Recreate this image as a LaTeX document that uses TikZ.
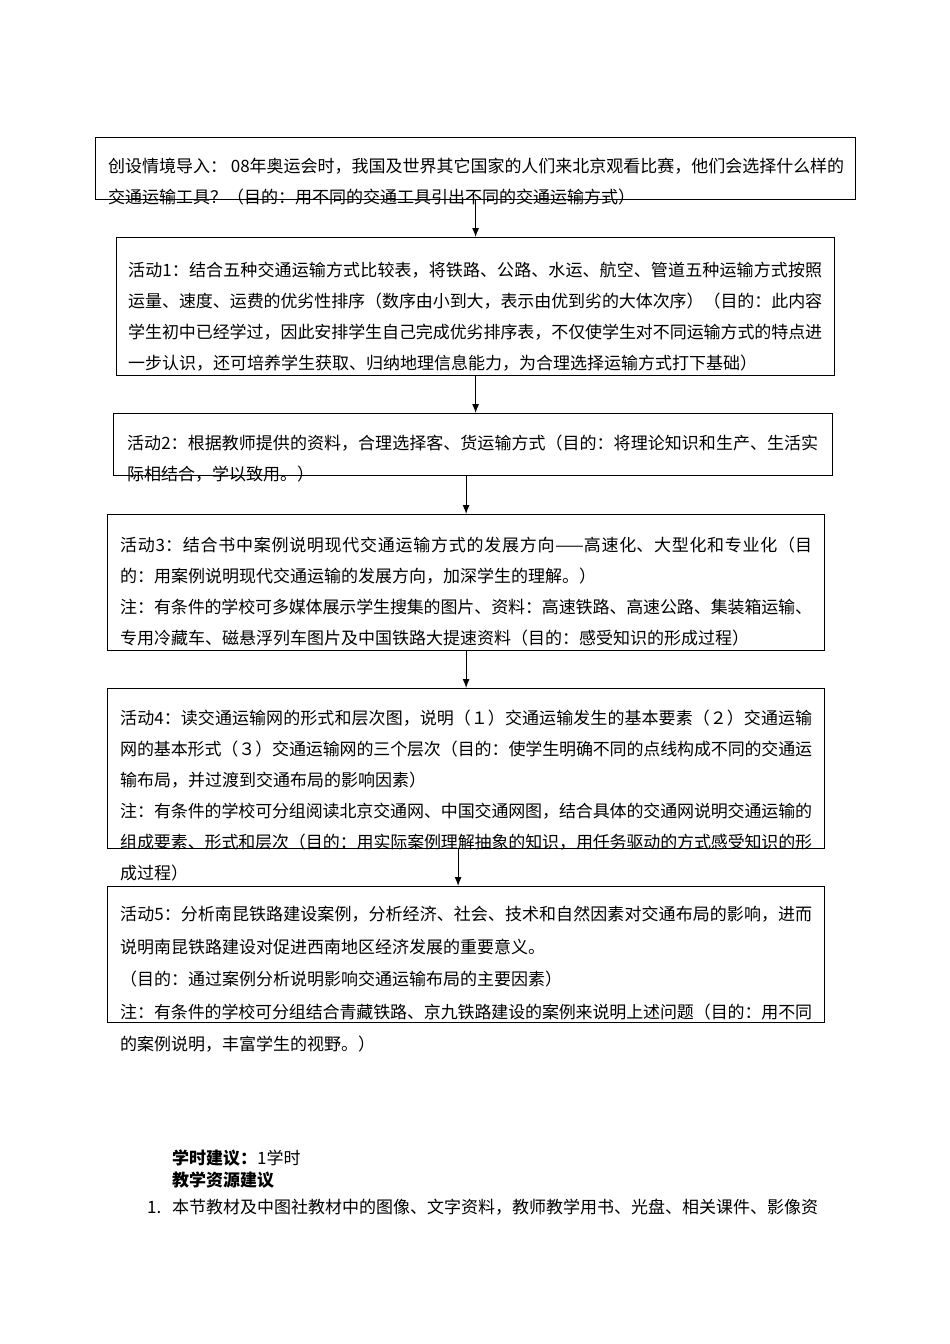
\documentclass[tikz,border=0pt]{standalone}
\usepackage{fontspec}
\setmainfont{Noto Sans CJK SC}
\XeTeXlinebreaklocale "zh"
\XeTeXlinebreakskip=0pt plus 2pt minus 0.5pt
\usetikzlibrary{arrows.meta}

\begin{document}
\begin{tikzpicture}[x=1pt,y=-1pt,
    frame/.style={draw,line width=1.2pt,inner sep=0pt,anchor=north west},
    txt/.style={anchor=north west,inner sep=0pt,align=justify,font=\fontsize{17}{31}\selectfont},
    flow/.style={-{Latex[length=9pt,width=7pt]},line width=1pt}]
    \useasboundingbox (0,0) rectangle (950,1344);
    % boxes
    \node[frame,minimum width=760pt,minimum height=62pt] (b0) at (95,137) {};
    \node[frame,minimum width=718pt,minimum height=138pt] (b1) at (116,237) {};
    \node[frame,minimum width=719pt,minimum height=62pt] (b2) at (113,413) {};
    \node[frame,minimum width=717pt,minimum height=136pt] (b3) at (107,514) {};
    \node[frame,minimum width=717pt,minimum height=160pt] (b4) at (107,688) {};
    \node[frame,minimum width=717pt,minimum height=136pt] (b5) at (107,886) {};
    % texts
    \node[txt,text width=736pt] (t0) at (108,158) {创设情境导入： 08年奥运会时，我国及世界其它国家的人们来北京观看比赛，他们会选择什么样的\linebreak
        交通运输工具？（目的：用不同的交通工具引出不同的交通运输方式）};
    \node[txt,text width=694pt] (t1) at (128,262) {活动1：结合五种交通运输方式比较表，将铁路、公路、水运、航空、管道五种运输方式按照\linebreak
        运量、速度、运费的优劣性排序（数序由小到大，表示由优到劣的大体次序）（目的：此内容\linebreak
        学生初中已经学过，因此安排学生自己完成优劣排序表，不仅使学生对不同运输方式的特点进\linebreak
        一步认识，还可培养学生获取、归纳地理信息能力，为合理选择运输方式打下基础）};
    \node[txt,text width=691pt] (t2) at (127,435) {活动2：根据教师提供的资料，合理选择客、货运输方式（目的：将理论知识和生产、生活实\linebreak
        际相结合，学以致用。）};
    \node[txt,text width=692pt] (t3) at (120,537) {活动3：结合书中案例说明现代交通运输方式的发展方向——高速化、大型化和专业化（目\linebreak
        的：用案例说明现代交通运输的发展方向，加深学生的理解。）\\
        注：有条件的学校可多媒体展示学生搜集的图片、资料：高速铁路、高速公路、集装箱运输、\linebreak
        专用冷藏车、磁悬浮列车图片及中国铁路大提速资料（目的：感受知识的形成过程）};
    \node[txt,text width=692pt] (t4) at (120,710) {活动4：读交通运输网的形式和层次图，说明（１）交通运输发生的基本要素（２）交通运输\linebreak
        网的基本形式（３）交通运输网的三个层次（目的：使学生明确不同的点线构成不同的交通运\linebreak
        输布局，并过渡到交通布局的影响因素）\\
        注：有条件的学校可分组阅读北京交通网、中国交通网图，结合具体的交通网说明交通运输的\linebreak
        组成要素、形式和层次（目的：用实际案例理解抽象的知识，用任务驱动的方式感受知识的形\linebreak
        成过程）};
    \node[txt,text width=692pt,font=\fontsize{17}{32.5}\selectfont] (t5) at (120,906) {活动5：分析南昆铁路建设案例，分析经济、社会、技术和自然因素对交通布局的影响，进而\linebreak
        说明南昆铁路建设对促进西南地区经济发展的重要意义。\\
        （目的：通过案例分析说明影响交通运输布局的主要因素）\\
        注：有条件的学校可分组结合青藏铁路、京九铁路建设的案例来说明上述问题（目的：用不同\linebreak
        的案例说明，丰富学生的视野。）};
    % below the chart
    \node[txt,align=left] (t6) at (172,1150) {\textbf{学时建议：}1学时};
    \node[txt,align=left] (t7) at (172,1172) {\textbf{教学资源建议}};
    \node[txt,align=left] (t8) at (147,1199) {\makebox[25pt][l]{1.}本节教材及中图社教材中的图像、文字资料，教师教学用书、光盘、相关课件、影像资};
    % arrows
    \draw[flow] (b0.south) -- (b1.north);
    \draw[flow] (b1.south) -- (b1.south |- b2.north);
    \draw[flow] (b3.north |- b2.south) -- (b3.north);
    \draw[flow] (b3.south) -- (b4.north);
    \draw[flow] ([xshift=-8pt]b4.south) -- ([xshift=-8pt]b5.north);
\end{tikzpicture}
\end{document}
